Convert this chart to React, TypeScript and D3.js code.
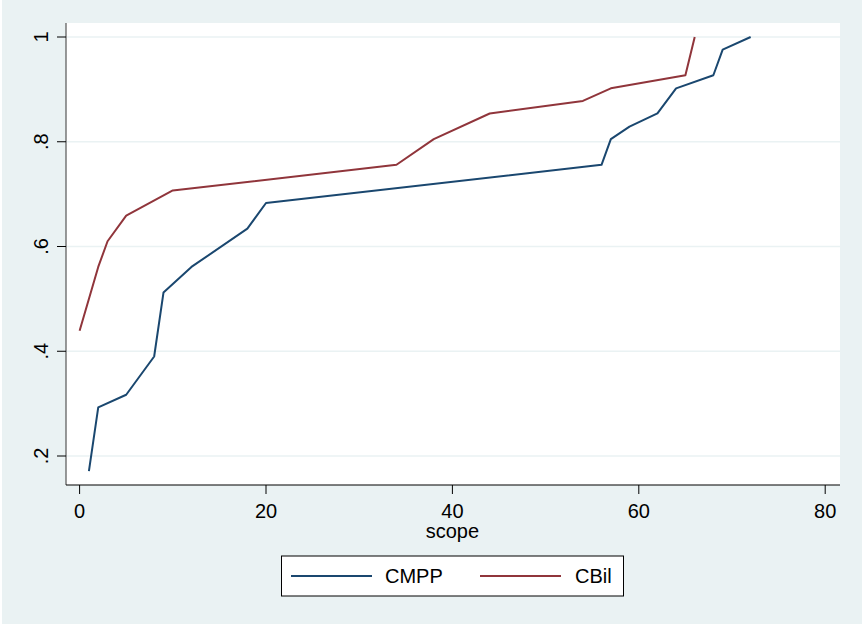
import React from "react";
import * as d3 from "d3";

const cmppX = [1, 2, 5, 8, 9, 12, 18, 20, 56, 57, 59, 62, 64, 68, 69, 72];
const cmppY = [0.171, 0.293, 0.317, 0.39, 0.512, 0.561, 0.634, 0.683, 0.756, 0.805, 0.829, 0.854, 0.902, 0.927, 0.976, 1.0];
const cbilX = [0, 2, 3, 5, 10, 34, 38, 44, 54, 57, 65, 66];
const cbilY = [0.439, 0.561, 0.61, 0.659, 0.707, 0.756, 0.805, 0.854, 0.878, 0.902, 0.927, 1.0];
const xTicks = [0, 20, 40, 60, 80];
const yTicks = [0.2, 0.4, 0.6, 0.8, 1];
const yTickLabels = [".2", ".4", ".6", ".8", "1"];
const seriesNames = ["CMPP", "CBil"];
const seriesColors = ["#1a476f", "#90353b"];
const xLabel = "scope";

const W = 862;
const H = 624;
const FONT = "'Liberation Sans', Arial, sans-serif";

export default function App() {
  const plotL = 66, plotR = 840, plotT = 23, plotB = 485;
  const x = d3.scaleLinear().domain([0, 80]).range([79.6, 825.2]);
  const y = d3.scaleLinear().domain([0.2, 1]).range([456, 37]);
  const line = d3
    .line<[number, number]>()
    .x((d) => x(d[0]))
    .y((d) => y(d[1]));
  const cmpp: [number, number][] = cmppX.map((v, i) => [v, cmppY[i]]);
  const cbil: [number, number][] = cbilX.map((v, i) => [v, cbilY[i]]);

  const legL = 281.5, legR = 623.5, legT = 556, legB = 596, legY = 576;
  return (
    <div style={{ position: "absolute", left: 0, top: 0 }}>
      <svg width={W} height={H} style={{ display: "block" }} fontFamily={FONT}>
        <rect x={0} y={0} width={W} height={H} fill="#eaf2f3" />
        <rect x={0} y={0} width={2} height={H} fill="#ffffff" />
        <rect x={plotL} y={plotT} width={plotR - plotL} height={plotB - plotT} fill="#ffffff" />
        {yTicks.map((t) => (
          <line key={"g" + t} x1={plotL} x2={plotR} y1={y(t)} y2={y(t)} stroke="#eaf2f3" strokeWidth={1.6} />
        ))}
        <path d={line(cmpp) || ""} fill="none" stroke={seriesColors[0]} strokeWidth={2} strokeLinejoin="round" />
        <path d={line(cbil) || ""} fill="none" stroke={seriesColors[1]} strokeWidth={2} strokeLinejoin="round" />
        <line x1={plotL} x2={plotL} y1={plotT} y2={plotB} stroke="#555" strokeWidth={1.2} />
        <line x1={plotL} x2={plotR} y1={plotB} y2={plotB} stroke="#000" strokeWidth={1.2} />
        {yTicks.map((t, i) => (
          <g key={"y" + t}>
            <line x1={plotL - 9} x2={plotL} y1={y(t)} y2={y(t)} stroke="#000" strokeWidth={1} />
            <text
              transform={`translate(48,${y(t)}) rotate(-90)`}
              textAnchor="middle"
              fontSize={20}
              fill="#000"
            >
              {yTickLabels[i]}
            </text>
          </g>
        ))}
        {xTicks.map((t) => (
          <g key={"x" + t}>
            <line x1={x(t)} x2={x(t)} y1={plotB} y2={plotB + 9} stroke="#000" strokeWidth={1} />
            <text x={x(t)} y={518} textAnchor="middle" fontSize={20} fill="#000">
              {t}
            </text>
          </g>
        ))}
        <text x={x(40)} y={538} textAnchor="middle" fontSize={20} fill="#000">
          {xLabel}
        </text>
        <rect x={legL} y={legT} width={legR - legL} height={legB - legT} fill="#ffffff" stroke="#000" strokeWidth={1} />
        <line x1={291} x2={372} y1={legY} y2={legY} stroke={seriesColors[0]} strokeWidth={2} />
        <text x={385} y={legY + 7} fontSize={20} fill="#000">{seriesNames[0]}</text>
        <line x1={480} x2={561} y1={legY} y2={legY} stroke={seriesColors[1]} strokeWidth={2} />
        <text x={575} y={legY + 7} fontSize={20} fill="#000">{seriesNames[1]}</text>
      </svg>
    </div>
  );
}
